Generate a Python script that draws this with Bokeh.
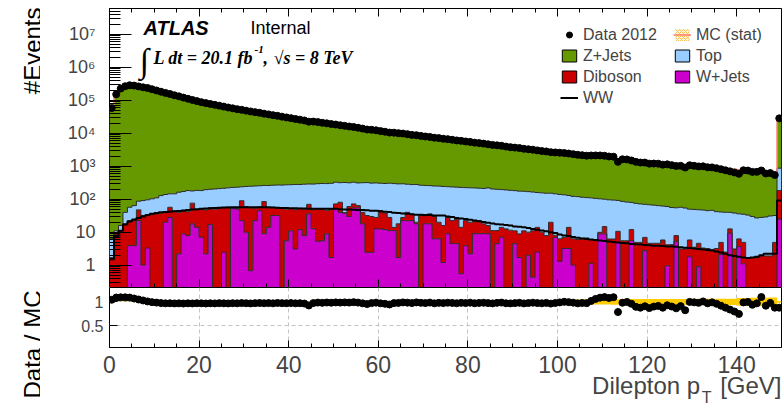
import numpy as np
from bokeh.plotting import figure
from bokeh.layouts import column, row
from bokeh.models import (ColumnDataSource, FixedTicker, Label, Legend, LegendItem,
                          LinearAxis, Range1d, Title)
from bokeh.embed import file_html
from bokeh.resources import INLINE

# ---------------------------------------------------------------------------
# Dilepton pT, 1 GeV bins from 0 to 150 GeV (last bin includes the overflow)
# ---------------------------------------------------------------------------
bin_width = 1.0
x_min, x_max = 0.0, 150.0

zjets = [55790, 139390, 207280, 243760, 262340, 261640, 251310, 240710, 233900, 217900,
         201890, 186870, 172860, 159850, 146850, 135840, 124830, 114820, 105820, 97120,
         90320, 84900, 79800, 75000, 70490, 66290, 62280, 58470, 55370, 52460,
         49760, 47150, 44750, 42440, 40240, 38140, 36230, 34330, 32530, 30830,
         29220, 27720, 26320, 25110, 24010, 22910, 21900, 20900, 20000, 19100,
         18270, 17480, 16680, 15990, 15270, 14590, 13980, 13280, 12790, 12190,
         11700, 11300, 10790, 10400, 10010, 9620, 9270, 8900, 8560, 8240,
         7920, 7610, 7320, 7040, 6770, 6510, 6260, 6020, 5780, 5560,
         5350, 5130, 4930, 4740, 4540, 4380, 4200, 4040, 3880, 3730,
         3590, 3450, 3320, 3190, 3070, 2940, 2830, 2720, 2620, 2540,
         2460, 2380, 2310, 2240, 2170, 2100, 2030, 1970, 1900, 1850,
         1790, 1730, 1680, 1630, 1570, 1530, 1480, 1440, 1400, 1350,
         1310, 1270, 1240, 1210, 1170, 1140, 1120, 1070, 1050, 1020,
         990, 962, 939, 913, 886, 864, 840, 817, 793, 772,
         751, 729, 708, 688, 670, 648, 626, 604, 585, 31430]

top = [4.6, 2.1, 5.0, 22.0, 34.5, 39.0, 39.5, 59.0, 64.0, 67.0,
       74.0, 91.0, 99.0, 89.0, 102.0, 123.0, 124.0, 141.0, 102.0, 137.0,
       133.0, 148.0, 145.0, 155.0, 158.0, 160.0, 164.0, 174.0, 180.0, 148.0,
       184.0, 193.0, 199.0, 198.0, 177.0, 206.0, 209.0, 216.0, 212.0, 224.0,
       224.0, 232.0, 227.0, 236.0, 220.0, 240.0, 246.0, 248.0, 252.0, 254.0,
       257.0, 237.0, 283.0, 255.0, 257.0, 248.0, 276.0, 288.0, 278.0, 284.0,
       260.0, 262.0, 278.0, 284.0, 274.0, 266.0, 245.0, 243.0, 260.0, 234.0,
       230.0, 222.0, 222.0, 230.0, 228.0, 212.0, 213.5, 207.0, 214.0, 202.5,
       202.0, 199.0, 193.5, 194.0, 204.0, 193.8, 188.8, 182.0, 179.4, 174.5,
       171.0, 167.1, 163.0, 160.0, 154.0, 146.0, 146.0, 144.1, 132.0, 138.0,
       133.7, 129.0, 116.0, 115.7, 114.0, 108.5, 105.3, 104.2, 100.4, 93.1,
       85.2, 89.8, 87.8, 81.4, 80.5, 76.5, 68.0, 70.1, 67.1, 63.0,
       63.4, 61.4, 59.4, 56.2, 55.8, 51.8, 47.1, 53.9, 50.9, 44.2,
       45.5, 43.4, 43.7, 41.8, 43.0, 38.8, 36.1, 37.6, 27.4, 34.9,
       29.8, 30.1, 31.3, 28.3, 25.3, 26.1, 27.1, 29.1, 27.1, 690.0]

diboson = [1.7, 8.9, 11.0, 18.0, 18.6, 21.1, 25.0, 31.0, 28.7, 36.0,
           36.0, 38.0, 20.0, 29.0, 44.0, 37.8, 38.1, 34.1, 58.1, 34.0,
           43.0, 44.8, 38.0, 50.0, 52.0, 52.6, 58.0, 2.0, 2.0, 67.5,
           50.0, 54.3, 30.5, 13.0, 76.1, 41.0, 25.0, 22.0, 56.0, 44.5,
           41.0, 44.9, 41.0, 42.1, 34.0, 35.2, 44.7, 46.5, 37.1, 48.3,
           20.0, 41.0, 1.0, 30.0, 17.0, 9.0, 22.0, 29.5, 27.5, 15.4,
           32.4, 26.0, 16.8, 2.8, 16.3, 5.5, 17.5, 12.5, 2.0, 32.0,
           14.0, 18.0, 23.7, 13.7, 14.8, 19.0, 18.0, 20.5, 13.5, 18.6,
           17.8, 12.0, 13.5, 9.0, 7.0, 11.2, 6.7, 7.0, 12.6, 11.5,
           6.5, 7.2, 11.0, 8.0, 10.6, 11.5, 10.0, 7.9, 20.0, 1.0,
           5.0, 3.8, 10.8, 5.3, 6.0, 6.5, 6.7, 4.7, 5.6, 1.0,
           5.9, 6.2, 6.2, 5.7, 5.5, 5.5, 6.5, 4.9, 4.9, 4.2,
           4.6, 4.6, 4.6, 5.8, 3.2, 4.2, 2.6, 3.1, 3.1, 4.0,
           3.5, 3.7, 3.3, 3.2, 3.0, 3.2, 2.8, 2.5, 3.3, 3.1,
           2.6, 3.8, 1.7, 1.7, 1.7, 1.9, 1.9, 1.9, 4.9, 158.0]

wjets = [0, 0, 0, 0, 3.9, 3.9, 22.5, 1.0, 3.3, 0,
         0, 0, 20.0, 28.0, 0, 2.2, 8.9, 7.9, 17.9, 14.0,
         7.0, 2.2, 17.0, 0, 0, 2.45, 0, 52.0, 50.0, 22.5,
         10.0, 0.68, 22.5, 45.0, 8.9, 14.0, 32.0, 32.0, 0, 5.5,
         11.0, 3.1, 12.0, 7.9, 36.0, 12.8, 5.3, 5.5, 8.9, 1.7,
         52.0, 40.0, 38.0, 30.0, 55.0, 55.0, 18.0, 2.45, 2.45, 12.6,
         12.6, 12.0, 11.2, 11.2, 1.7, 22.5, 22.5, 22.5, 18.0, 0,
         18.0, 18.0, 6.3, 6.3, 1.2, 9.0, 4.5, 4.5, 0.55, 3.9,
         2.2, 9.0, 9.0, 9.0, 9.0, 0, 4.5, 7.0, 0, 0,
         4.5, 1.7, 0, 2.0, 0.43, 2.5, 0, 0, 0, 7.0,
         1.3, 3.2, 3.2, 1.0, 0, 0, 0, 1.13, 0, 8.9,
         8.9, 0, 0, 4.9, 0, 0, 5.5, 0, 0, 2.76,
         0, 0, 0, 0, 0.96, 0, 5.3, 0, 0, 1.8,
         0, 0.9, 0, 0, 0, 0, 2.1, 0, 9.3, 0,
         3.65, 1.1, 0, 0, 0, 0, 0, 0, 0, 25.0]

ww = [1.5, 7.5, 11, 17, 21, 24, 27, 30, 33, 36,
      38, 40, 41, 42, 43, 44, 45, 47, 49, 50,
      51, 52, 53, 54, 55, 56, 56, 57, 57, 57,
      57, 57, 57, 57, 57, 57, 56, 55, 54, 54,
      53, 53, 52, 52, 51, 51, 51, 51, 51, 51,
      51, 50, 49, 49, 48, 47, 47, 46, 45, 45,
      43, 42, 41, 39, 38, 37, 36, 35, 34, 34,
      33, 33, 32, 32, 32, 30, 29, 27, 26, 25,
      24, 22.5, 21.5, 20.5, 19.5, 18.5, 17.5, 17, 16.5, 16,
      15, 14.5, 14, 13.3, 12.6, 11.9, 11.2, 10.6, 10, 9.5,
      8.5, 8, 7.6, 7.2, 6.8, 6.4, 6.2, 6.0, 5.8, 5.6,
      5.4, 5.2, 5.0, 4.9, 4.7, 4.6, 4.4, 4.3, 4.2, 4.1,
      4.0, 3.9, 3.85, 3.8, 3.7, 3.65, 3.6, 3.5, 3.4, 3.3,
      3.2, 3.1, 3.0, 2.9, 2.76, 2.6, 2.4, 2.2, 2.0, 1.9,
      1.8, 1.7, 1.65, 1.7, 1.8, 2.0, 2.2, 2.2, 2.2, 91]

data_2012 = [58300, 152000, 227000, 267000, 286000, 280000, 264000, 248000, 236300, 216900,
             199000, 182300, 167800, 155500, 142300, 131900, 120800, 111600, 102600, 94580,
             87790, 82290, 77680, 72870, 68860, 64510, 60500, 57120, 53930, 51380,
             48600, 45880, 43830, 41720, 39370, 37440, 35410, 33840, 31950, 30230,
             28790, 27160, 25880, 24510, 22480, 22620, 21870, 20780, 20040, 19070,
             18410, 17530, 16830, 16070, 15520, 14680, 13870, 12990, 12770, 12310,
             11640, 11140, 10490, 10430, 10090, 9811, 9407, 8951, 8752, 8340,
             7976, 7752, 7343, 7144, 6835, 6635, 6357, 6075, 5890, 5641,
             5481, 5200, 5037, 4861, 4641, 4443, 4312, 4176, 3956, 3795,
             3676, 3557, 3385, 3279, 3182, 3023, 2900, 2813, 2673, 2623,
             2574, 2520, 2428, 2325, 2221, 2166, 2087, 2122, 2131, 2126,
             2079, 1976, 1947, 1359, 1627, 1610, 1498, 1359, 1294, 1292,
             1201, 1206, 1196, 1118, 1144, 1080, 1018, 1028, 913, 1070,
             1030, 990, 996, 929, 923, 870, 811, 754, 700, 648,
             590, 756, 741, 675, 676, 744, 603, 622, 543, 28400]

# relative MC statistical uncertainty per bin
mc_stat_rel = [0.006, 0.004, 0.003, 0.003, 0.003, 0.003, 0.003, 0.003, 0.003, 0.003,
               0.003, 0.003, 0.003, 0.003, 0.003, 0.004, 0.004, 0.004, 0.004, 0.004,
               0.004, 0.004, 0.004, 0.005, 0.005, 0.005, 0.005, 0.005, 0.005, 0.005,
               0.005, 0.006, 0.006, 0.006, 0.006, 0.006, 0.006, 0.006, 0.007, 0.007,
               0.007, 0.007, 0.007, 0.007, 0.008, 0.008, 0.008, 0.008, 0.008, 0.009,
               0.009, 0.009, 0.009, 0.009, 0.010, 0.010, 0.010, 0.010, 0.011, 0.011,
               0.011, 0.011, 0.012, 0.012, 0.012, 0.013, 0.013, 0.013, 0.014, 0.014,
               0.014, 0.015, 0.015, 0.015, 0.016, 0.016, 0.016, 0.017, 0.017, 0.018,
               0.018, 0.018, 0.019, 0.019, 0.020, 0.020, 0.021, 0.021, 0.022, 0.022,
               0.023, 0.023, 0.024, 0.024, 0.025, 0.025, 0.026, 0.026, 0.027, 0.028,
               0.045, 0.047, 0.048, 0.050, 0.050, 0.052, 0.053, 0.054, 0.055, 0.055,
               0.056, 0.056, 0.057, 0.057, 0.058, 0.058, 0.058, 0.059, 0.059, 0.060,
               0.060, 0.060, 0.061, 0.061, 0.061, 0.062, 0.062, 0.062, 0.063, 0.063,
               0.063, 0.064, 0.064, 0.064, 0.065, 0.065, 0.065, 0.066, 0.066, 0.066,
               0.080, 0.082, 0.083, 0.085, 0.086, 0.088, 0.089, 0.090, 0.090, 0.020]

y_ticks_main = [1, 10, 100, 1000, 10**4, 10**5, 10**6, 10**7]
y_tick_labels_main = ["1", "10", "10\u00b2", "10\u00b3", "10\u2074", "10\u2075", "10\u2076", "10\u2077"]
x_ticks = [0, 20, 40, 60, 80, 100, 120, 140]
ratio_ticks = [0.5, 1.0]
ratio_tick_labels = ["0.5", "1"]

# ---------------------------------------------------------------------------
GREEN, BLUE, RED, MAGENTA = "#669900", "#99CCFF", "#CC0000", "#CC00CC"
OUTLINE = "#2b2b2b"
MC_LINE = "#FF7F6E"
BAND = "#FFCC00"
SANS, SERIF = "Liberation Sans", "Liberation Serif"

PAGE_W, PAGE_H = 784, 406
STRIP_W = 40                      # left strip holding the vertical axis titles
W = PAGE_W - STRIP_W
H_MAIN, H_RATIO = 287, 119
FRAME_L, FRAME_R = 109, 3         # frame edges in page pixels
FLOOR = 1e-3

n = len(data_2012)
edges = x_min + bin_width * np.arange(n + 1)
centers = 0.5 * (edges[:-1] + edges[1:])

wj = np.array(wjets, float)
db = np.array(diboson, float)
tp = np.array(top, float)
zj = np.array(zjets, float)
dat = np.array(data_2012, float)
s1 = wj
s2 = s1 + db
s3 = s2 + tp
s4 = s3 + zj
ratio = dat / s4
rel = np.array(mc_stat_rel, float)


def step_y(a):
    a = np.maximum(np.asarray(a, float), FLOOR)
    return np.append(a, a[-1])


def hide_labels(axis):
    axis.major_label_text_font_size = "0px"
    axis.major_label_text_color = None
    axis.major_label_standoff = 0


xr = Range1d(x_min, x_max)

# ---------------------------------- main panel ------------------------------
p = figure(width=W, height=H_MAIN, x_range=xr, y_range=Range1d(0.21, 6.1e7),
           y_axis_type="log", output_backend="svg", toolbar_location=None,
           min_border_left=FRAME_L - STRIP_W, min_border_right=FRAME_R,
           min_border_top=8, min_border_bottom=0)
p.background_fill_color = "white"
p.border_fill_color = "white"
p.outline_line_color = "black"
p.outline_line_width = 1
p.xgrid.visible = False
p.ygrid.visible = False

layers = [(np.zeros(n), s1, MAGENTA), (s1, s2, RED), (s2, s3, BLUE), (s3, s4, GREEN)]
for lo, hi, col in layers:
    p.varea_step(x=edges, y1=step_y(lo), y2=step_y(hi), step_mode="after",
                 fill_color=col)
for hi in (s1, s2, s3):
    p.step(x=edges, y=step_y(hi), mode="after", line_color=OUTLINE, line_width=1)

r_ww = p.step(x=edges, y=step_y(ww), mode="after", line_color="black", line_width=2)
r_mc = p.step(x=edges, y=step_y(s4), mode="after", line_color=MC_LINE, line_width=1.5)
r_data = p.scatter(centers, dat, size=7, color="black")

# legend swatches: a single zero-area box sitting on the axis floor
swatch = ColumnDataSource(dict(l=[x_min], r=[x_min], t=[FLOOR], b=[FLOOR]))
sw_kw = dict(left="l", right="r", top="t", bottom="b", source=swatch)
lg_z = p.quad(fill_color=GREEN, line_color="black", **sw_kw)
lg_t = p.quad(fill_color=BLUE, line_color="black", **sw_kw)
lg_d = p.quad(fill_color=RED, line_color="black", **sw_kw)
lg_w = p.quad(fill_color=MAGENTA, line_color="black", **sw_kw)
lg_mc = p.quad(fill_color="#FFF4D6", line_color=None, hatch_pattern="x",
               hatch_color="#F6C25A", hatch_scale=4, hatch_weight=1, **sw_kw)

minor_log = [m * 10.0 ** e for e in range(-1, 8) for m in range(2, 10) if 0.21 <= m * 10.0 ** e <= 6.1e7]
minor_x = list(range(0, 151, 5))

ya = p.yaxis[0]
ya.ticker = FixedTicker(ticks=y_ticks_main, minor_ticks=minor_log)
ya.major_label_overrides = dict(zip(y_ticks_main, y_tick_labels_main))
ya.major_label_text_font = SANS
ya.major_label_text_font_size = "18px"
ya.major_label_standoff = 14
ya.major_tick_in, ya.major_tick_out = 22, 0
ya.minor_tick_in, ya.minor_tick_out = 11, 0
ya.axis_line_color = None

xa = p.xaxis[0]
xa.ticker = FixedTicker(ticks=x_ticks, minor_ticks=minor_x)
hide_labels(xa)
xa.major_tick_in, xa.major_tick_out = 8, 0
xa.minor_tick_in, xa.minor_tick_out = 4, 0
xa.axis_line_color = None

top_axis = LinearAxis(ticker=FixedTicker(ticks=x_ticks, minor_ticks=minor_x),
                      major_tick_in=8, major_tick_out=0, minor_tick_in=4, minor_tick_out=0,
                      axis_line_color=None)
hide_labels(top_axis)
p.add_layout(top_axis, "above")

leg_kw = dict(label_text_font=SANS, label_text_font_size="16px", glyph_width=18,
              glyph_height=15, label_height=19, label_standoff=5, spacing=2,
              padding=0, margin=0, border_line_alpha=0, background_fill_alpha=0)
leg1 = Legend(items=[LegendItem(label="Data 2012", renderers=[r_data]),
                     LegendItem(label="Z+Jets", renderers=[lg_z]),
                     LegendItem(label="Diboson", renderers=[lg_d]),
                     LegendItem(label="WW", renderers=[r_ww])],
              location=(451, 180), **leg_kw)
leg2 = Legend(items=[LegendItem(label="MC (stat)", renderers=[lg_mc, r_mc]),
                     LegendItem(label="Top", renderers=[lg_t]),
                     LegendItem(label="W+Jets", renderers=[lg_w])],
              location=(564, 201), **leg_kw)
p.add_layout(leg1, "center")
p.add_layout(leg2, "center")


def add_text(x, y, text, size, font=SANS, style="normal"):
    # x, y: page pixels (y from the top); converted to frame-relative screen units
    p.add_layout(Label(x=x - FRAME_L, y=H_MAIN - y, x_units="screen", y_units="screen",
                       text=text, text_font=font, text_font_size=f"{size}px",
                       text_font_style=style, text_align="left",
                       text_baseline="alphabetic", text_color="black"))


add_text(143, 27, "ATLAS", 20, style="bold italic")
add_text(250, 27, "Internal", 18)
add_text(139, 60, "\u222b", 34, font=SERIF, style="bold italic")
add_text(153, 57, "L dt = 20.1 fb", 18, font=SERIF, style="bold italic")
add_text(254, 49, "-1", 11, font=SERIF, style="bold italic")
add_text(263, 57, ",", 18, font=SERIF, style="bold italic")
add_text(273, 57, "\u221as = 8 TeV", 18, font=SERIF, style="bold italic")

# ---------------------------------- ratio panel -----------------------------
r = figure(width=W, height=H_RATIO, x_range=xr, y_range=Range1d(0.05, 1.3),
           output_backend="svg", toolbar_location=None,
           min_border_left=FRAME_L - STRIP_W, min_border_right=FRAME_R,
           min_border_top=0, min_border_bottom=59)
r.background_fill_color = "white"
r.border_fill_color = "white"
r.outline_line_color = "black"

r.varea_step(x=edges, y1=np.append(1 - rel, 1 - rel[-1]), y2=np.append(1 + rel, 1 + rel[-1]),
             step_mode="after", fill_color=BAND)
r.scatter(centers, ratio, size=7, color="black")

r.xgrid.ticker = FixedTicker(ticks=x_ticks[1:])
r.ygrid.ticker = FixedTicker(ticks=ratio_ticks)
for g in (r.xgrid[0], r.ygrid[0]):
    g.grid_line_color = "#c4c4c4"
    g.grid_line_dash = "4 3"
    g.grid_line_width = 1

rx = r.xaxis[0]
rx.ticker = FixedTicker(ticks=x_ticks, minor_ticks=minor_x)
rx.major_label_text_font = SANS
rx.major_label_text_font_size = "23px"
rx.major_label_standoff = 8
rx.major_tick_in, rx.major_tick_out = 7, 0
rx.minor_tick_in, rx.minor_tick_out = 4, 0
rx.axis_line_color = None

ry = r.yaxis[0]
ry.ticker = FixedTicker(ticks=ratio_ticks)
ry.major_label_overrides = dict(zip(ratio_ticks, ratio_tick_labels))
ry.major_label_text_font = SANS
ry.major_label_text_font_size = "16px"
ry.major_label_standoff = 6
ry.major_tick_in, ry.major_tick_out = 8, 0
ry.axis_line_color = None

# x-axis title "Dilepton p_T [GeV]", right-aligned at the frame edge; non-breaking
# spaces leave room for the subscript, which is set just below the baseline
FRAME_RIGHT_PX = PAGE_W - FRAME_R
NBSP = "\u00a0"
title_kw = dict(text_font=SANS, text_font_style="normal", align="right")
r.add_layout(Title(text="Dilepton p" + NBSP * 3 + "[GeV]", text_font_size="24px",
                   standoff=-12, **title_kw), "below")
r.add_layout(Title(text="T", text_font_size="16px", offset=FRAME_RIGHT_PX - 711,
                   standoff=-11, **title_kw), "below")

# ---------------------------- strip with y-axis titles ----------------------
strip = figure(width=STRIP_W, height=PAGE_H, x_range=Range1d(0, STRIP_W),
               y_range=Range1d(PAGE_H, 0), output_backend="svg", toolbar_location=None,
               x_axis_location=None, y_axis_location=None, min_border=0)
strip.outline_line_color = None
strip.xgrid.visible = False
strip.ygrid.visible = False
for txt, top_px in (("#Events", 7), ("Data / MC", 290)):
    strip.add_layout(Label(x=32, y=top_px, text=txt, text_font=SANS, text_font_size="24px",
                           text_align="right", text_baseline="alphabetic",
                           angle=np.pi / 2, text_color="black"))

layout = row(strip, column(p, r))
open("out.html", "w").write(file_html(layout, INLINE))
